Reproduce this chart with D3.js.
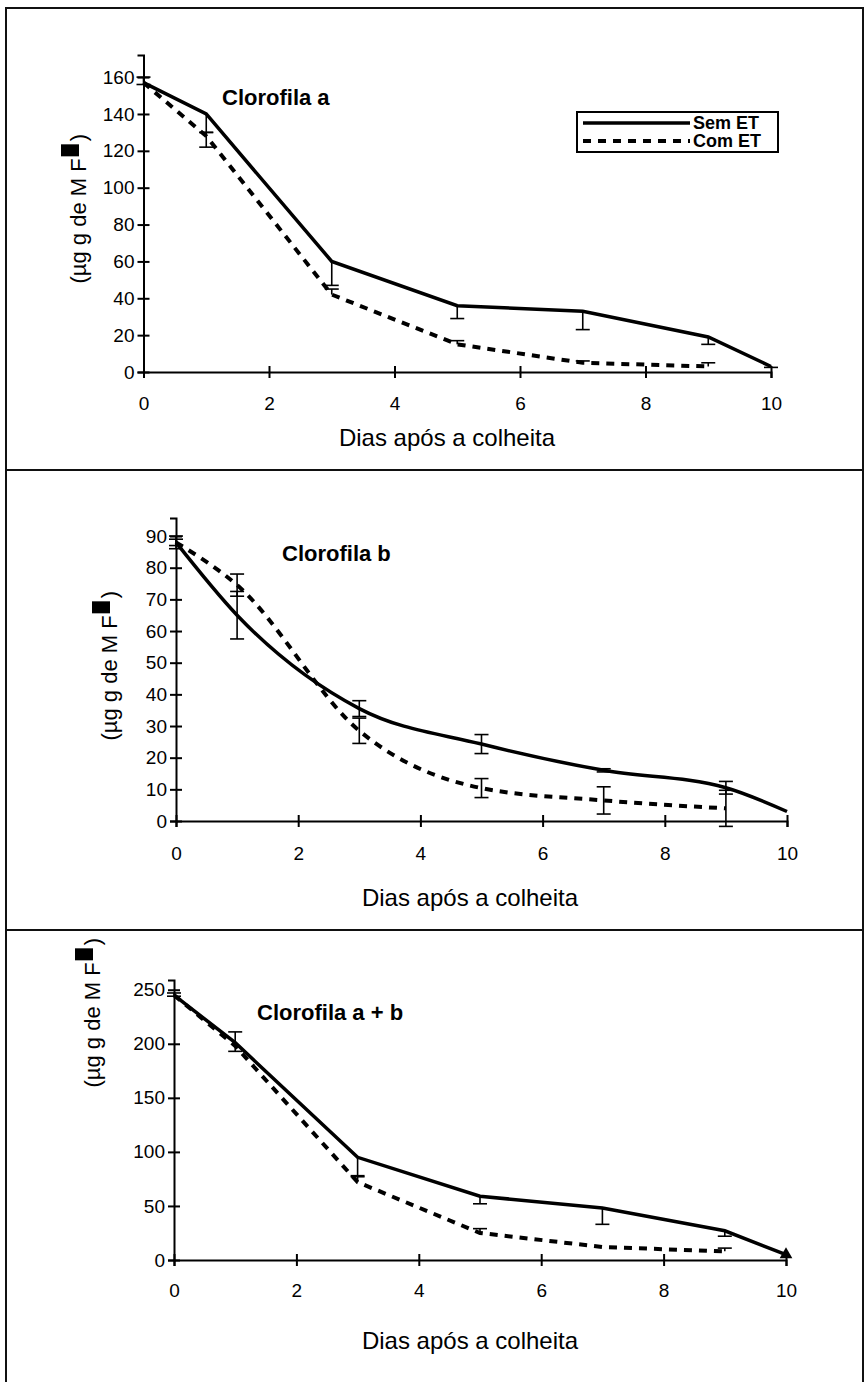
<!DOCTYPE html>
<html>
<head>
<meta charset="utf-8">
<script src="https://cdn.jsdelivr.net/npm/d3@7"></script>
<style>
  body { margin: 0; background: #fff; }
  text { font-family: Arial, "Liberation Sans", sans-serif; fill: #000; }
</style>
</head>
<body>
<div id="container"></div>
<script>
/* DATA */
const daysSem = [0, 1, 3, 5, 7, 9, 10]
const daysCom = [0, 1, 3, 5, 7, 9]
const xTicks = [0, 2, 4, 6, 8, 10]

// Clorofila a
const aSem = [157, 140, 60, 36, 33, 19, 3]
const aSemLo = [1, 10, 13, 7, 10, 4, 0.5]
const aSemHi = [0, 0, 0, 0, 0, 0, 0]
const aCom = [157, 128, 42, 15, 5, 3]
const aComLo = [0, 6, 0, 0, 0, 0]
const aComHi = [3, 2, 3, 2, 1, 2]
const aTicks = [0, 20, 40, 60, 80, 100, 120, 140, 160]

// Clorofila b
const bSem = [88, 65, 35.5, 24.3, 16, 10.5, 3]
const bSemLo = [1, 7.5, 2.5, 3, 0.5, 2, 0]
const bSemHi = [1, 7.5, 2.5, 3, 0.5, 2, 0]
const bCom = [88, 74.5, 28.5, 10.4, 6.5, 4]
const bComLo = [2, 3.5, 4, 3, 4.3, 5.7]
const bComHi = [2, 3.5, 4, 3, 4.3, 5.7]
const bTicks = [0, 10, 20, 30, 40, 50, 60, 70, 80, 90]

// Clorofila a + b
const abSem = [245, 201, 95, 59, 48, 27, 5]
const abSemLo = [1, 8, 17, 7, 15, 5, 0]
const abSemHi = [0, 10, 0, 0, 0, 0, 0]
const abCom = [245, 198, 72, 25, 12, 8]
const abComLo = [0, 0, 0, 0, 0, 0]
const abComHi = [2, 0, 5, 4, 0, 3]
const abTicks = [0, 50, 100, 150, 200, 250]
const abEnd = [{ day: 10, value: 5 }]

const seriesNames = ["Sem ET", "Com ET"]

/* LAYOUT */
const width = 865
const height = 1382

const panels = [
  { title: "Clorofila a", sem: aSem, semLo: aSemLo, semHi: aSemHi, com: aCom, comLo: aComLo, comHi: aComHi,
    ticks: aTicks, yTop: 172, left: 143.5, right: 771, bottom: 372, top: 55,
    titleX: 222, titleY: 97, labX: 86, labEnd: 134, xLabGap: 31, xTitleX: 447, xTitleY: 438, smooth: false, legend: true },
  { title: "Clorofila b", sem: bSem, semLo: bSemLo, semHi: bSemHi, com: bCom, comLo: bComLo, comHi: bComHi,
    ticks: bTicks, yTop: 95.7, left: 176, right: 787, bottom: 821, top: 518,
    titleX: 282, titleY: 553, labX: 117, labEnd: 591, xLabGap: 32, xTitleX: 470, xTitleY: 898, smooth: true, legend: false },
  { title: "Clorofila a + b", sem: abSem, semLo: abSemLo, semHi: abSemHi, com: abCom, comLo: abComLo, comHi: abComHi,
    ticks: abTicks, yTop: 259, left: 174, right: 786, bottom: 1260, top: 980,
    titleX: 257, titleY: 1012, labX: 100, labEnd: 938, xLabGap: 30, xTitleX: 470, xTitleY: 1341, smooth: false, legend: false, endMark: abEnd }
]

const svg = d3.select("#container")
  .append("svg")
  .attr("width", width)
  .attr("height", height)

// OUTER FRAME AND SEPARATORS
svg.append("rect")
  .attr("x", 6).attr("y", 8)
  .attr("width", 857).attr("height", height)
  .attr("fill", "none")
  .attr("stroke", "#111")
  .attr("stroke-width", 2)

svg.selectAll(".sep")
  .data([470, 930])
  .join("line")
    .attr("x1", 6).attr("x2", 863)
    .attr("y1", d => d).attr("y2", d => d)
    .attr("stroke", "#111")
    .attr("stroke-width", 2)

panels.forEach(p => drawPanel(p))

function drawPanel(p) {
  const g = svg.append("g")

  // SCALES
  const xScale = d3.scaleLinear().domain([0, 10]).range([p.left, p.right])
  const yScale = d3.scaleLinear().domain([0, p.yTop]).range([p.bottom, p.top])

  // AXES
  const xAxisGroup = g.append("g")
    .attr("transform", `translate(0, ${p.bottom})`)
    .call(d3.axisBottom(xScale).tickValues(xTicks).tickSizeOuter(0).tickSize(6).tickPadding(0))
  xAxisGroup.selectAll(".tick line").attr("y1", -6).attr("y2", 6)
  xAxisGroup.selectAll(".tick text")
    .attr("y", p.xLabGap).attr("dy", "0.35em")
    .style("font-size", "19px")

  const yAxisGroup = g.append("g")
    .attr("transform", `translate(${p.left}, 0)`)
    .call(d3.axisLeft(yScale).tickValues(p.ticks).tickSizeOuter(0).tickSize(6))
  yAxisGroup.selectAll(".tick line").attr("x1", -6).attr("x2", 6)
  yAxisGroup.selectAll(".tick text")
    .attr("x", -9)
    .style("font-size", "19px")

  g.selectAll(".domain, .tick line")
    .attr("stroke", "#000")
    .attr("stroke-width", 2)

  // TITLES
  g.append("text")
    .attr("x", p.titleX).attr("y", p.titleY)
    .attr("dy", "0.35em")
    .style("font-size", "22px")
    .style("font-weight", "bold")
    .text(p.title)

  g.append("text")
    .attr("x", p.xTitleX).attr("y", p.xTitleY)
    .attr("dy", "0.35em")
    .attr("text-anchor", "middle")
    .style("font-size", "24px")
    .text("Dias após a colheita")

  // Y LABEL (with the broken superscript box)
  const lab = g.append("g")
    .attr("transform", `translate(${p.labX}, ${p.labEnd}) rotate(-90)`)
  const paren = lab.append("text")
    .attr("text-anchor", "end")
    .style("font-size", "22px")
    .text(")")
  const parenW = paren.node().getComputedTextLength()
  lab.append("rect")
    .attr("x", -(parenW + 15)).attr("y", -25)
    .attr("width", 12).attr("height", 18)
    .attr("fill", "#000")
  lab.append("text")
    .attr("x", -(parenW + 17))
    .attr("text-anchor", "end")
    .style("font-size", "22px")
    .text("(µg g de M F")

  // LINES
  const line = d3.line()
    .x(d => xScale(d.day))
    .y(d => yScale(d.value))
    .curve(p.smooth ? d3.curveMonotoneX : d3.curveLinear)

  const semData = daysSem.map((day, i) => ({ day: day, value: p.sem[i], lo: p.semLo[i], hi: p.semHi[i] }))
  const comData = daysCom.map((day, i) => ({ day: day, value: p.com[i], lo: p.comLo[i], hi: p.comHi[i] }))

  // ERROR BARS
  const errs = semData.concat(comData).filter(d => d.lo > 0 || d.hi > 0)
  const cap = 7
  g.selectAll(".err")
    .data(errs)
    .join("line")
      .attr("x1", d => xScale(d.day)).attr("x2", d => xScale(d.day))
      .attr("y1", d => yScale(d.value - d.lo)).attr("y2", d => yScale(d.value + d.hi))
      .attr("stroke", "#000").attr("stroke-width", 1.6)
  const caps = []
  errs.forEach(d => {
    if (d.lo > 0) caps.push({ day: d.day, v: d.value - d.lo })
    if (d.hi > 0) caps.push({ day: d.day, v: d.value + d.hi })
  })
  g.selectAll(".cap")
    .data(caps)
    .join("line")
      .attr("x1", d => xScale(d.day) - cap).attr("x2", d => xScale(d.day) + cap)
      .attr("y1", d => yScale(d.v)).attr("y2", d => yScale(d.v))
      .attr("stroke", "#000").attr("stroke-width", 1.6)

  g.append("path")
    .attr("d", line(comData))
    .attr("fill", "none")
    .attr("stroke", "#000")
    .attr("stroke-width", 4)
    .attr("stroke-dasharray", "8,7")

  g.append("path")
    .attr("d", line(semData))
    .attr("fill", "none")
    .attr("stroke", "#000")
    .attr("stroke-width", 3.5)

  if (p.endMark) {
    g.selectAll(".mark")
      .data(p.endMark)
      .join("path")
        .attr("d", d3.symbol(d3.symbolTriangle, 70))
        .attr("transform", d => `translate(${xScale(d.day)}, ${yScale(d.value)})`)
        .attr("fill", "#000")
  }

  // LEGEND
  if (p.legend) {
    const lg = g.append("g")
    lg.append("rect")
      .attr("x", 577).attr("y", 112)
      .attr("width", 201).attr("height", 40)
      .attr("fill", "#fff")
      .attr("stroke", "#000")
      .attr("stroke-width", 2)
    lg.selectAll(".lgline")
      .data(seriesNames)
      .join("line")
        .attr("x1", 583).attr("x2", 690)
        .attr("y1", (d, i) => 123 + i * 18).attr("y2", (d, i) => 123 + i * 18)
        .attr("stroke", "#000")
        .attr("stroke-width", (d, i) => i ? 4 : 3.5)
        .attr("stroke-dasharray", (d, i) => i ? "8,7" : null)
    lg.selectAll(".lgtext")
      .data(seriesNames)
      .join("text")
        .attr("x", 693)
        .attr("y", (d, i) => 123 + i * 18)
        .attr("dy", "0.35em")
        .style("font-size", "18px")
        .style("font-weight", "bold")
        .text(d => d)
  }
}
</script>
</body>
</html>
